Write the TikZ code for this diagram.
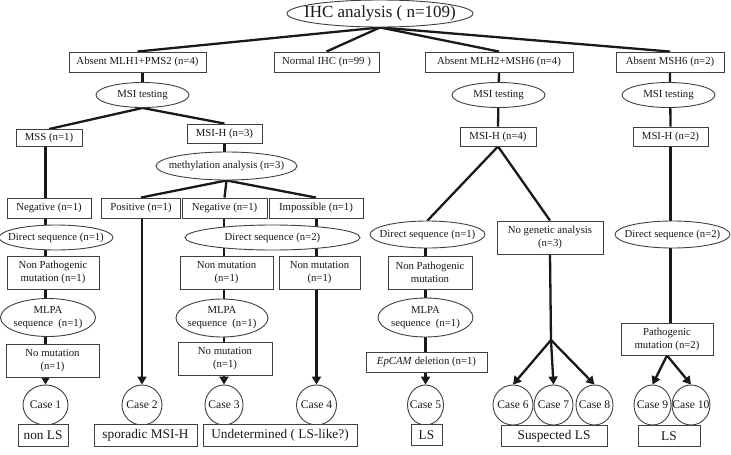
\documentclass[tikz,border=0pt]{standalone}
\usepackage{fontspec}
\setmainfont{Liberation Serif}
\usetikzlibrary{shapes.geometric,arrows.meta,backgrounds}
\newcommand\fs{\fontsize{10.75pt}{13pt}\selectfont}
\newcommand\fb{\fontsize{13.3pt}{15pt}\selectfont}
\newcommand\fcs{\fontsize{11.6pt}{13pt}\selectfont}
\newcommand\ftop{\fontsize{17pt}{20pt}\selectfont}
\begin{document}
\begin{tikzpicture}[x=1pt,y=-1pt,
  conn/.style={line width=2.3pt, draw=black!90},
  arr/.style={conn, -{Triangle[length=8pt,width=9pt]}},
  lab/.style={font=\fs, align=center, inner sep=0pt, text=black!90},
  bx/.style 2 args={draw=black!75, line width=0.9pt, fill=white, minimum width=#1pt, minimum height=#2pt, inner sep=0pt, align=center, font=\fs, text=black!90},
  el/.style n args={3}{ellipse, draw=black!75, line width=0.9pt, fill=white, minimum width=#1pt, minimum height=#2pt, inner sep=0pt, label={[lab]center:#3}},
  cs/.style n args={2}{ellipse, draw=black!75, line width=0.9pt, fill=white, minimum width=#1pt, minimum height=40pt, inner sep=0pt, label={[lab,font=\fcs]center:#2}},
  lb/.style 2 args={draw=black!75, line width=0.9pt, fill=white, minimum width=#1pt, minimum height=#2pt, inner sep=0pt, font=\fb, text=black!90}]
\useasboundingbox (0,0) rectangle (731,455);

% top
\node[ellipse, draw=black!75, line width=0.9pt, fill=white, minimum width=186pt, minimum height=27pt, inner sep=0pt, label={[lab,font=\ftop]center:IHC analysis ( n=109)}] (ihc) at (380,13.5) {};

% level 1
\node[bx={137}{20}] (b1) at (137.5,62) {Absent MLH1+PMS2 (n=4)};
\node[bx={105}{20}] (nihc) at (326.5,62) {Normal IHC (n=99 )};
\node[bx={148}{20}] (b3) at (499,62) {Absent MLH2+MSH6 (n=4)};
\node[bx={108}{20}] (b4) at (670,62) {Absent MSH6 (n=2)};

\node[el={93}{25}{MSI testing}] (msi1) at (142.5,95) {};
\node[el={93}{25}{MSI testing}] (msi2) at (498.5,95) {};
\node[el={93}{25}{MSI testing}] (msi3) at (668.5,95) {};

\node[bx={66}{17}] (mss) at (49,138) {MSS (n=1)};
\node[bx={75}{19}] (mh3) at (224.5,133.5) {MSI-H (n=3)};
\node[bx={76}{19}] (mh4) at (498,136.5) {MSI-H (n=4)};
\node[bx={75}{19}] (mh2) at (670.5,136.5) {MSI-H (n=2)};

\node[el={141}{28}{methylation analysis (n=3)}] (meth) at (226.5,166) {};

\node[bx={84}{20}] (neg1) at (49,208) {Negative (n=1)};
\node[bx={79}{20}] (pos) at (141,208) {Positive (n=1)};
\node[bx={85}{20}] (neg2) at (224.5,208) {Negative (n=1)};
\node[bx={94}{20}] (imp) at (316,208) {Impossible (n=1)};

\node[el={114}{25}{Direct sequence (n=1)}] (ds1) at (56,237.5) {};
\node[el={175}{25}{Direct sequence (n=2)}] (ds2) at (272.5,237.5) {};
\node[el={115}{27}{Direct sequence (n=1)}] (ds3) at (427.5,234.5) {};
\node[bx={106}{33}] (nga) at (550,237.5) {No genetic analysis\\(n=3)};
\node[el={115}{27}{Direct sequence (n=2)}] (ds4) at (672.5,234.5) {};

\node[bx={92}{33}] (np1) at (53,272.5) {Non Pathogenic\\mutation (n=1)};
\node[bx={93}{33}] (nm2) at (226.5,272.5) {Non mutation\\(n=1)};
\node[bx={81}{33}] (nm3) at (319.5,272.5) {Non mutation\\(n=1)};
\node[bx={84}{33}] (np3) at (430,272.5) {Non Pathogenic\\mutation};

\node[el={95}{38}{MLPA\\sequence~~(n=1)}] (ml1) at (48,317.5) {};
\node[el={92}{38}{MLPA\\sequence~~(n=1)}] (ml2) at (222,318) {};
\node[el={95}{39}{MLPA\\sequence~~(n=1)}] (ml3) at (425.5,317.5) {};

\node[bx={92}{32}] (pm) at (667,339) {Pathogenic\\mutation (n=2)};
\node[bx={93}{33}] (nm1b) at (52.5,360.5) {No mutation\\(n=1)};
\node[bx={94}{33}] (nm2b) at (225,359) {No mutation\\(n=1)};
\node[bx={121}{20}] (ep) at (426.5,362) {\textit{EpCAM} deletion (n=1)};

% cases
\node[cs={45}{Case 1}] (c1) at (45.5,405) {};
\node[cs={40}{Case 2}] (c2) at (142,405) {};
\node[cs={38}{Case 3}] (c3) at (224,405) {};
\node[cs={40}{Case 4}] (c4) at (316.5,405) {};
\node[cs={36}{Case 5}] (c5) at (425.5,405) {};
\node[cs={40}{Case 6}] (c6) at (513,405) {};
\node[cs={39}{Case 7}] (c7) at (553.5,405) {};
\node[cs={37}{Case 8}] (c8) at (594.5,405) {};
\node[cs={37}{Case 9}] (c9) at (652.5,405) {};
\node[cs={38}{Case 10}] (c10) at (691,405) {};

% bottom labels
\node[lb={50}{22}] (l1) at (43,435) {non LS};
\node[lb={103}{22}] (l2) at (145.5,435) {sporadic MSI-H};
\node[lb={154}{22}] (l3) at (280,435) {Undetermined ( LS-like?)};
\node[lb={31}{21}] (l4) at (426.5,435) {LS};
\node[lb={106}{21}] (l5) at (554,436) {Suspected LS};
\node[lb={62}{21}] (l6) at (669,436) {LS};

\coordinate (br) at (551,340);

\begin{scope}[on background layer]
\foreach \t in {b1,nihc,b3,b4} \draw[conn] (ihc.south) -- (\t.north);
\draw[conn] (msi1.north |- b1.south) -- (msi1.north);
\draw[conn] (msi1.south) -- (mss.north);
\draw[conn] (msi1.south) -- (mh3.north);
\draw[conn] (mh3.south) -- (mh3.south |- meth.north);
\draw[conn] (mss.south -| c1.north) -- (nm1b.south -| c1.north);
\draw[arr] (nm1b.south -| c1.north) -- (c1.north);
\draw[conn] (meth.south) -- (pos.north);
\draw[conn] (meth.south) -- (neg2.north);
\draw[conn] (meth.south) -- (imp.north);
\draw[arr] (pos.south -| c2.north) -- (c2.north);
\draw[conn] (neg2.south -| c3.north) -- (nm2b.south -| c3.north);
\draw[arr] (nm2b.south -| c3.north) -- (c3.north);
\draw[conn] (imp.south -| c4.north) -- (nm3.south -| c4.north);
\draw[arr] (nm3.south -| c4.north) -- (c4.north);
\draw[conn] (b3.south) -- (mh4.north);
\draw[conn] (b4.south) -- (mh2.north);
\draw[conn] (mh4.south) -- (ds3.north);
\draw[conn] (mh4.south) -- (nga.north);
\draw[conn] (ds3.south -| c5.north) -- (ep.south -| c5.north);
\draw[arr] (ep.south -| c5.north) -- (c5.north);
\draw[conn] (nga.south) -- (br);
\draw[arr] (br) -- (c6.north);
\draw[arr] (br) -- (c7.north);
\draw[arr] (br) -- (c8.north);
\draw[conn] (mh2.south) -- (mh2.south |- pm.north);
\draw[arr] (pm.south) -- (c9.north);
\draw[arr] (pm.south) -- (c10.north);
\end{scope}
\end{tikzpicture}
\end{document}
